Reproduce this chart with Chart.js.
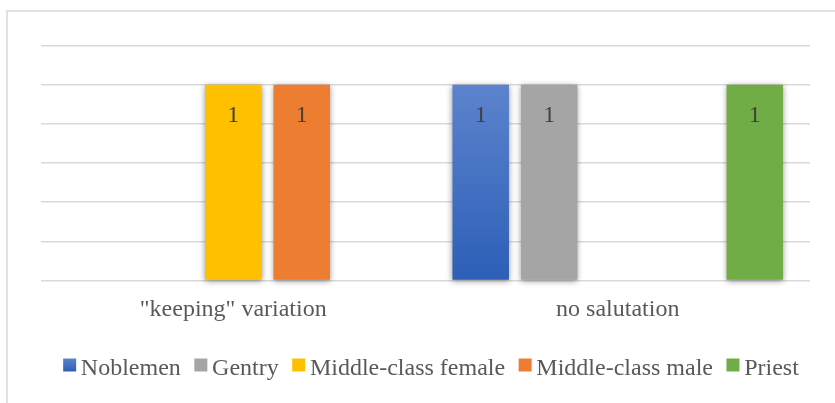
<!DOCTYPE html>
<html>
<head>
<meta charset="utf-8">
<script src="https://cdn.jsdelivr.net/npm/chart.js@4"></script>
<style>
  html, body { margin: 0; padding: 0; background: #fff; overflow: hidden; }
  #wrap { position: relative; width: 835px; height: 403px; }
</style>
</head>
<body>
<div id="wrap"><canvas id="c" width="835" height="403"></canvas></div>
<script>
// Categories and series
const categories = ['"keeping" variation', 'no salutation'];
const seriesNames = ['Noblemen', 'Gentry', 'Middle-class female', 'Middle-class male', 'Priest'];
const noblemen = [null, 1];
const gentry = [null, 1];
const middleClassFemale = [1, null];
const middleClassMale = [1, null];
const priest = [null, 1];
const yTickMin = 0;
const yTickMax = 1.2;
const yTickStep = 0.2;

const SERIF = '"Liberation Serif", "Times New Roman", serif';
const BLUE_TOP = '#5c83cd';
const BLUE_BOTTOM = '#2d5fb7';
const seriesColors = ['#4472c4', '#a5a5a5', '#ffc000', '#ed7d31', '#70ad47'];

function blueGradient(context) {
  const chart = context.chart;
  if (!chart.chartArea) return seriesColors[0];
  const ys = chart.scales.y;
  const g = chart.ctx.createLinearGradient(0, ys.getPixelForValue(1), 0, ys.getPixelForValue(0));
  g.addColorStop(0, BLUE_TOP);
  g.addColorStop(1, BLUE_BOTTOM);
  return g;
}

const seriesData = [noblemen, gentry, middleClassFemale, middleClassMale, priest];
const datasets = seriesNames.map((name, i) => ({
  label: name,
  data: seriesData[i],
  backgroundColor: i === 0 ? blueGradient : seriesColors[i],
  borderWidth: 0,
  clip: false,
  categoryPercentage: 0.891,
  barPercentage: 0.825
}));

// Outer frame of the chart box
const framePlugin = {
  id: 'frame',
  beforeDraw(chart) {
    const ctx = chart.ctx;
    ctx.save();
    ctx.strokeStyle = '#d9d9d9';
    ctx.lineWidth = 1.5;
    ctx.beginPath();
    ctx.moveTo(7, 403);
    ctx.lineTo(7, 11);
    ctx.lineTo(835, 11);
    ctx.stroke();
    ctx.restore();
  }
};

// Soft shadow round each bar
const shadowPlugin = {
  id: 'barShadow',
  beforeDatasetDraw(chart) {
    const ctx = chart.ctx;
    ctx.save();
    ctx.shadowColor = 'rgba(0,0,0,0.42)';
    ctx.shadowBlur = 6;
    ctx.shadowOffsetX = 0;
    ctx.shadowOffsetY = 1.5;
  },
  afterDatasetDraw(chart) {
    chart.ctx.restore();
  }
};

// Value labels inside the top of each bar
const valueLabelPlugin = {
  id: 'valueLabels',
  afterDatasetsDraw(chart) {
    const ctx = chart.ctx;
    ctx.save();
    ctx.font = '24px ' + SERIF;
    ctx.fillStyle = '#404040';
    ctx.textAlign = 'center';
    ctx.textBaseline = 'alphabetic';
    chart.data.datasets.forEach((ds, di) => {
      const meta = chart.getDatasetMeta(di);
      meta.data.forEach((bar, idx) => {
        const v = ds.data[idx];
        if (v === null || v === undefined) return;
        ctx.fillText(String(v), bar.x, bar.y + 37);
      });
    });
    ctx.restore();
  }
};

// Legend row along the bottom
const legendPlugin = {
  id: 'bottomLegend',
  afterDraw(chart) {
    const ctx = chart.ctx;
    ctx.save();
    ctx.font = '24px ' + SERIF;
    const box = 13, gapText = 4.7, gapItem = 13.5;
    const widths = seriesNames.map(n => ctx.measureText(n).width);
    let total = 0;
    widths.forEach((w, i) => { total += box + gapText + w + (i < widths.length - 1 ? gapItem : 0); });
    let x = 431 - total / 2;
    const boxTop = 358.5, baseline = 375;
    seriesNames.forEach((name, i) => {
      if (i === 0) {
        const g = ctx.createLinearGradient(0, boxTop, 0, boxTop + box);
        g.addColorStop(0, BLUE_TOP);
        g.addColorStop(1, BLUE_BOTTOM);
        ctx.fillStyle = g;
      } else {
        ctx.fillStyle = seriesColors[i];
      }
      ctx.fillRect(x, boxTop, box, box);
      x += box + gapText;
      ctx.fillStyle = '#595959';
      ctx.textAlign = 'left';
      ctx.textBaseline = 'alphabetic';
      ctx.fillText(name, x, baseline);
      x += widths[i] + gapItem;
    });
    ctx.restore();
  }
};

new Chart(document.getElementById('c'), {
  type: 'bar',
  data: { labels: categories, datasets },
  plugins: [framePlugin, shadowPlugin, valueLabelPlugin, legendPlugin],
  options: {
    responsive: false,
    animation: false,
    events: [],
    layout: { padding: { left: 41, right: 25, top: 45.5, bottom: 0 } },
    plugins: {
      legend: { display: false },
      tooltip: { enabled: false },
      title: { display: false }
    },
    scales: {
      x: {
        grid: { display: false, drawTicks: false },
        border: { display: false },
        ticks: {
          color: '#595959',
          font: { family: SERIF, size: 24 },
          padding: 15,
          maxRotation: 0
        },
        afterFit(scale) { scale.height = 122.5; }
      },
      y: {
        min: yTickMin,
        max: yTickMax,
        ticks: { display: false, stepSize: yTickStep },
        grid: { color: '#d9d9d9', lineWidth: 1.5, drawTicks: false },
        border: { display: false },
        afterFit(scale) { scale.width = 0; }
      }
    }
  }
});
</script>
</body>
</html>
